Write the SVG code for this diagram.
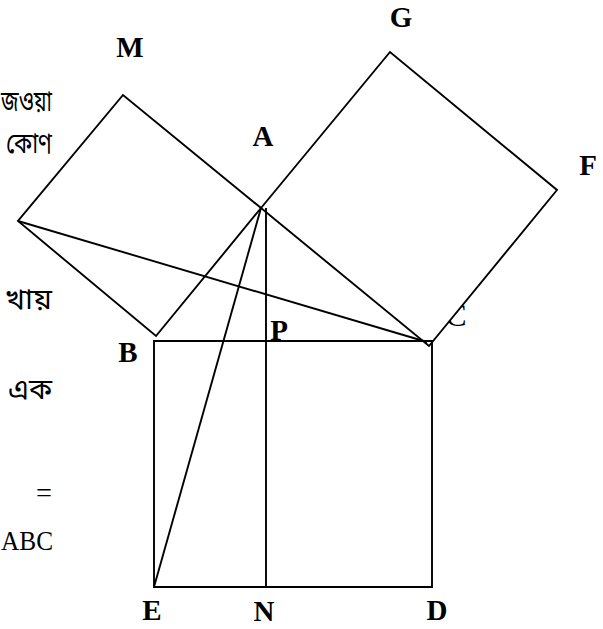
<svg xmlns="http://www.w3.org/2000/svg" width="603" height="629" viewBox="0 0 603 629">
<style>
.ln{stroke:#000;stroke-width:1.9;fill:none;stroke-linejoin:miter}
.lbl{font-family:"Liberation Serif",serif;font-weight:bold;font-size:29px;fill:#000;text-anchor:middle}
.bn{font-family:"Noto Sans Bengali","Noto Sans","Noto Sans CJK SC",sans-serif;font-size:28px;fill:#000}
.tx{font-family:"Liberation Serif",serif;font-size:28px;fill:#000}
</style>
<rect width="603" height="629" fill="#fff"/>
<g id="side-text">
<text class="bn" x="1" y="111" textLength="51" lengthAdjust="spacingAndGlyphs">জওয়া</text>
<text class="bn" x="6" y="153" textLength="46" lengthAdjust="spacingAndGlyphs">কোণ</text>
<text class="bn" x="5" y="309" textLength="47" lengthAdjust="spacingAndGlyphs">খায়</text>
<text class="bn" x="8" y="399" textLength="44" lengthAdjust="spacingAndGlyphs">এক</text>
<text class="tx" x="36" y="502" textLength="16" lengthAdjust="spacingAndGlyphs">=</text>
<text class="tx" x="1" y="550" textLength="52" lengthAdjust="spacingAndGlyphs">ABC</text>
</g>
<g id="label-C">
<text x="456" y="326" style="font-family:'Liberation Serif',serif;font-size:32px;text-anchor:middle">C</text>
</g>
<g id="square-ACFG">
<polygon class="ln" points="261,208 429,346 557,190 390,52" style="fill:#fff"/>
</g>
<g id="square-ABM">
<polygon class="ln" points="261,208 156,336 18,221 123,95"/>
</g>
<g id="square-BCDE">
<polygon class="ln" points="154,341 432,341 432,587 154,587"/>
</g>
<g id="connectors">
<line class="ln" x1="18" y1="221" x2="427" y2="342"/>
<line class="ln" x1="261" y1="208" x2="154" y2="587"/>
<line class="ln" x1="266" y1="208" x2="266" y2="587"/>
</g>
<g id="labels">
<text class="lbl" x="130" y="57">M</text>
<text class="lbl" x="401" y="27">G</text>
<text class="lbl" x="263" y="146">A</text>
<text class="lbl" x="588" y="175">F</text>
<text class="lbl" x="128" y="362">B</text>
<text class="lbl" x="279" y="340">P</text>
<text class="lbl" x="152" y="620">E</text>
<text class="lbl" x="264" y="621">N</text>
<text class="lbl" x="437" y="620">D</text>
</g>
</svg>
